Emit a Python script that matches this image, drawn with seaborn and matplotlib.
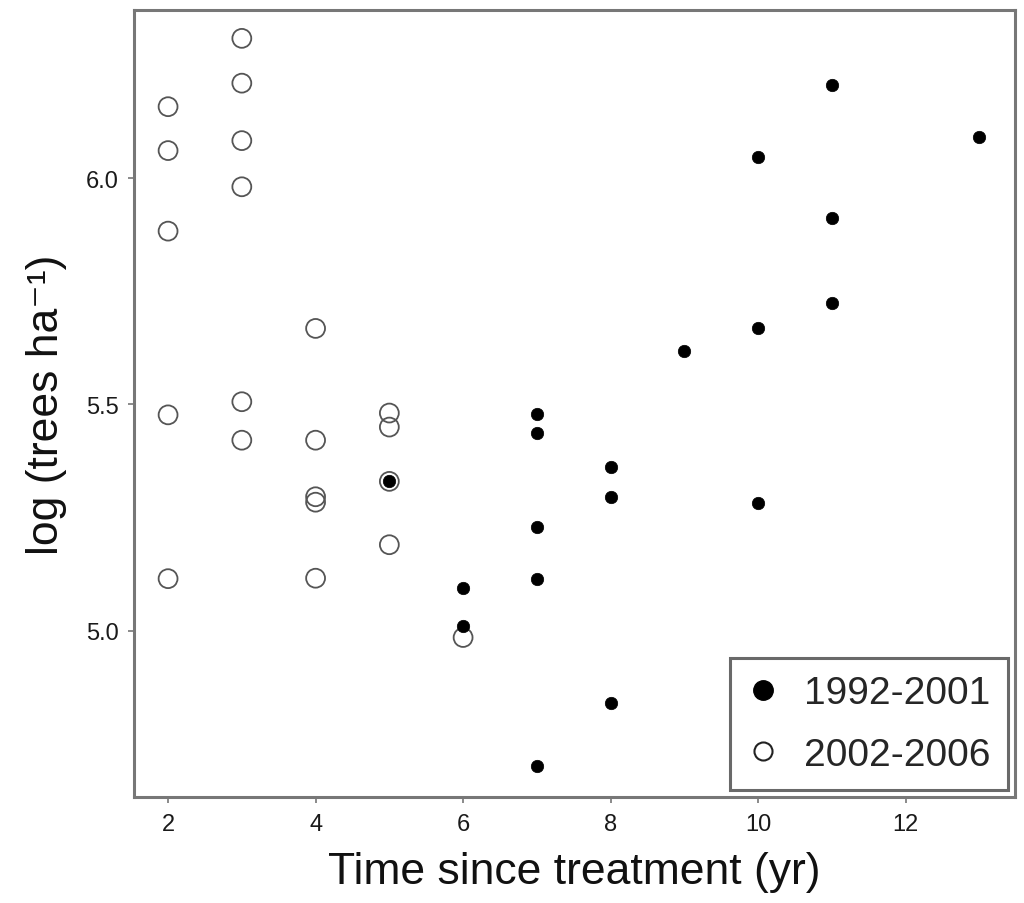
import matplotlib
matplotlib.use("Agg")
import matplotlib.pyplot as plt
import pandas as pd
import seaborn as sns
from matplotlib.lines import Line2D

# 1992-2001 plots (filled dots)
early_years = [5, 6, 6, 7, 7, 7, 7, 7, 8, 8, 8, 9, 10, 10, 10, 11, 11, 11, 13]
early_logs = [5.330, 5.094, 5.010, 5.479, 5.437, 5.229, 5.115, 4.700,
              5.362, 5.295, 4.841, 5.619, 6.046, 5.668, 5.282,
              6.206, 5.912, 5.724, 6.091]

# 2002-2006 plots (open circles)
late_years = [2, 2, 2, 2, 2, 3, 3, 3, 3, 3, 3, 4, 4, 4, 4, 4, 5, 5, 5, 5, 6]
late_logs = [6.158, 6.061, 5.883, 5.477, 5.115,
             6.309, 6.210, 6.083, 5.981, 5.506, 5.421,
             5.668, 5.421, 5.296, 5.284, 5.116,
             5.481, 5.450, 5.330, 5.190, 4.985]

period_labels = ["1992-2001", "2002-2006"]
x_ticks = [2, 4, 6, 8, 10, 12]
y_ticks = [5.0, 5.5, 6.0]

early = pd.DataFrame({"years": early_years, "log_trees": early_logs})
late = pd.DataFrame({"years": late_years, "log_trees": late_logs})

sns.set_style("white")
plt.rcParams["font.family"] = ["Liberation Sans", "DejaVu Sans"]

fig = plt.figure(figsize=(10.24, 9.04), dpi=100)
ax = fig.add_axes([0.131, 0.117, 0.860, 0.871])

sns.scatterplot(data=late, x="years", y="log_trees", ax=ax, marker="o",
                s=185, facecolor="none", edgecolor="#555555", linewidth=1.3,
                zorder=2)
sns.scatterplot(data=early, x="years", y="log_trees", ax=ax, marker="o",
                s=80, color="black", edgecolor="black", linewidth=0.5,
                zorder=3)

ax.set_xlim(1.54, 13.48)
ax.set_ylim(4.632, 6.372)
ax.set_xticks(x_ticks)
ax.set_yticks(y_ticks)
ax.set_yticklabels([f"{v:.1f}" for v in y_ticks])

for side in ax.spines.values():
    side.set_color("#777777")
    side.set_linewidth(2.2)

ax.tick_params(axis="both", which="major", labelsize=17, colors="#777777",
               labelcolor="#1a1a1a", length=4, width=1.2, direction="out",
               left=True, bottom=True, pad=7)

ax.set_xlabel("Time since treatment (yr)", fontsize=32, color="#111111",
              labelpad=12)
ax.set_ylabel("log (trees ha\u207b\u00b9)", fontsize=32, color="#111111",
              labelpad=14)

handles = [
    Line2D([], [], linestyle="none", marker="o", markersize=14,
           markerfacecolor="black", markeredgecolor="black"),
    Line2D([], [], linestyle="none", marker="o", markersize=13,
           markerfacecolor="white", markeredgecolor="#222222",
           markeredgewidth=1.5),
]
leg = ax.legend(handles, period_labels, loc="lower right", fontsize=28,
                frameon=True, fancybox=False, borderpad=0.45,
                handletextpad=0.65, handlelength=0.8, labelspacing=0.65,
                borderaxespad=0.18)
leg.get_frame().set_edgecolor("#444444")
leg.get_frame().set_linewidth(2.2)

fig.savefig("out.png", dpi=100)
